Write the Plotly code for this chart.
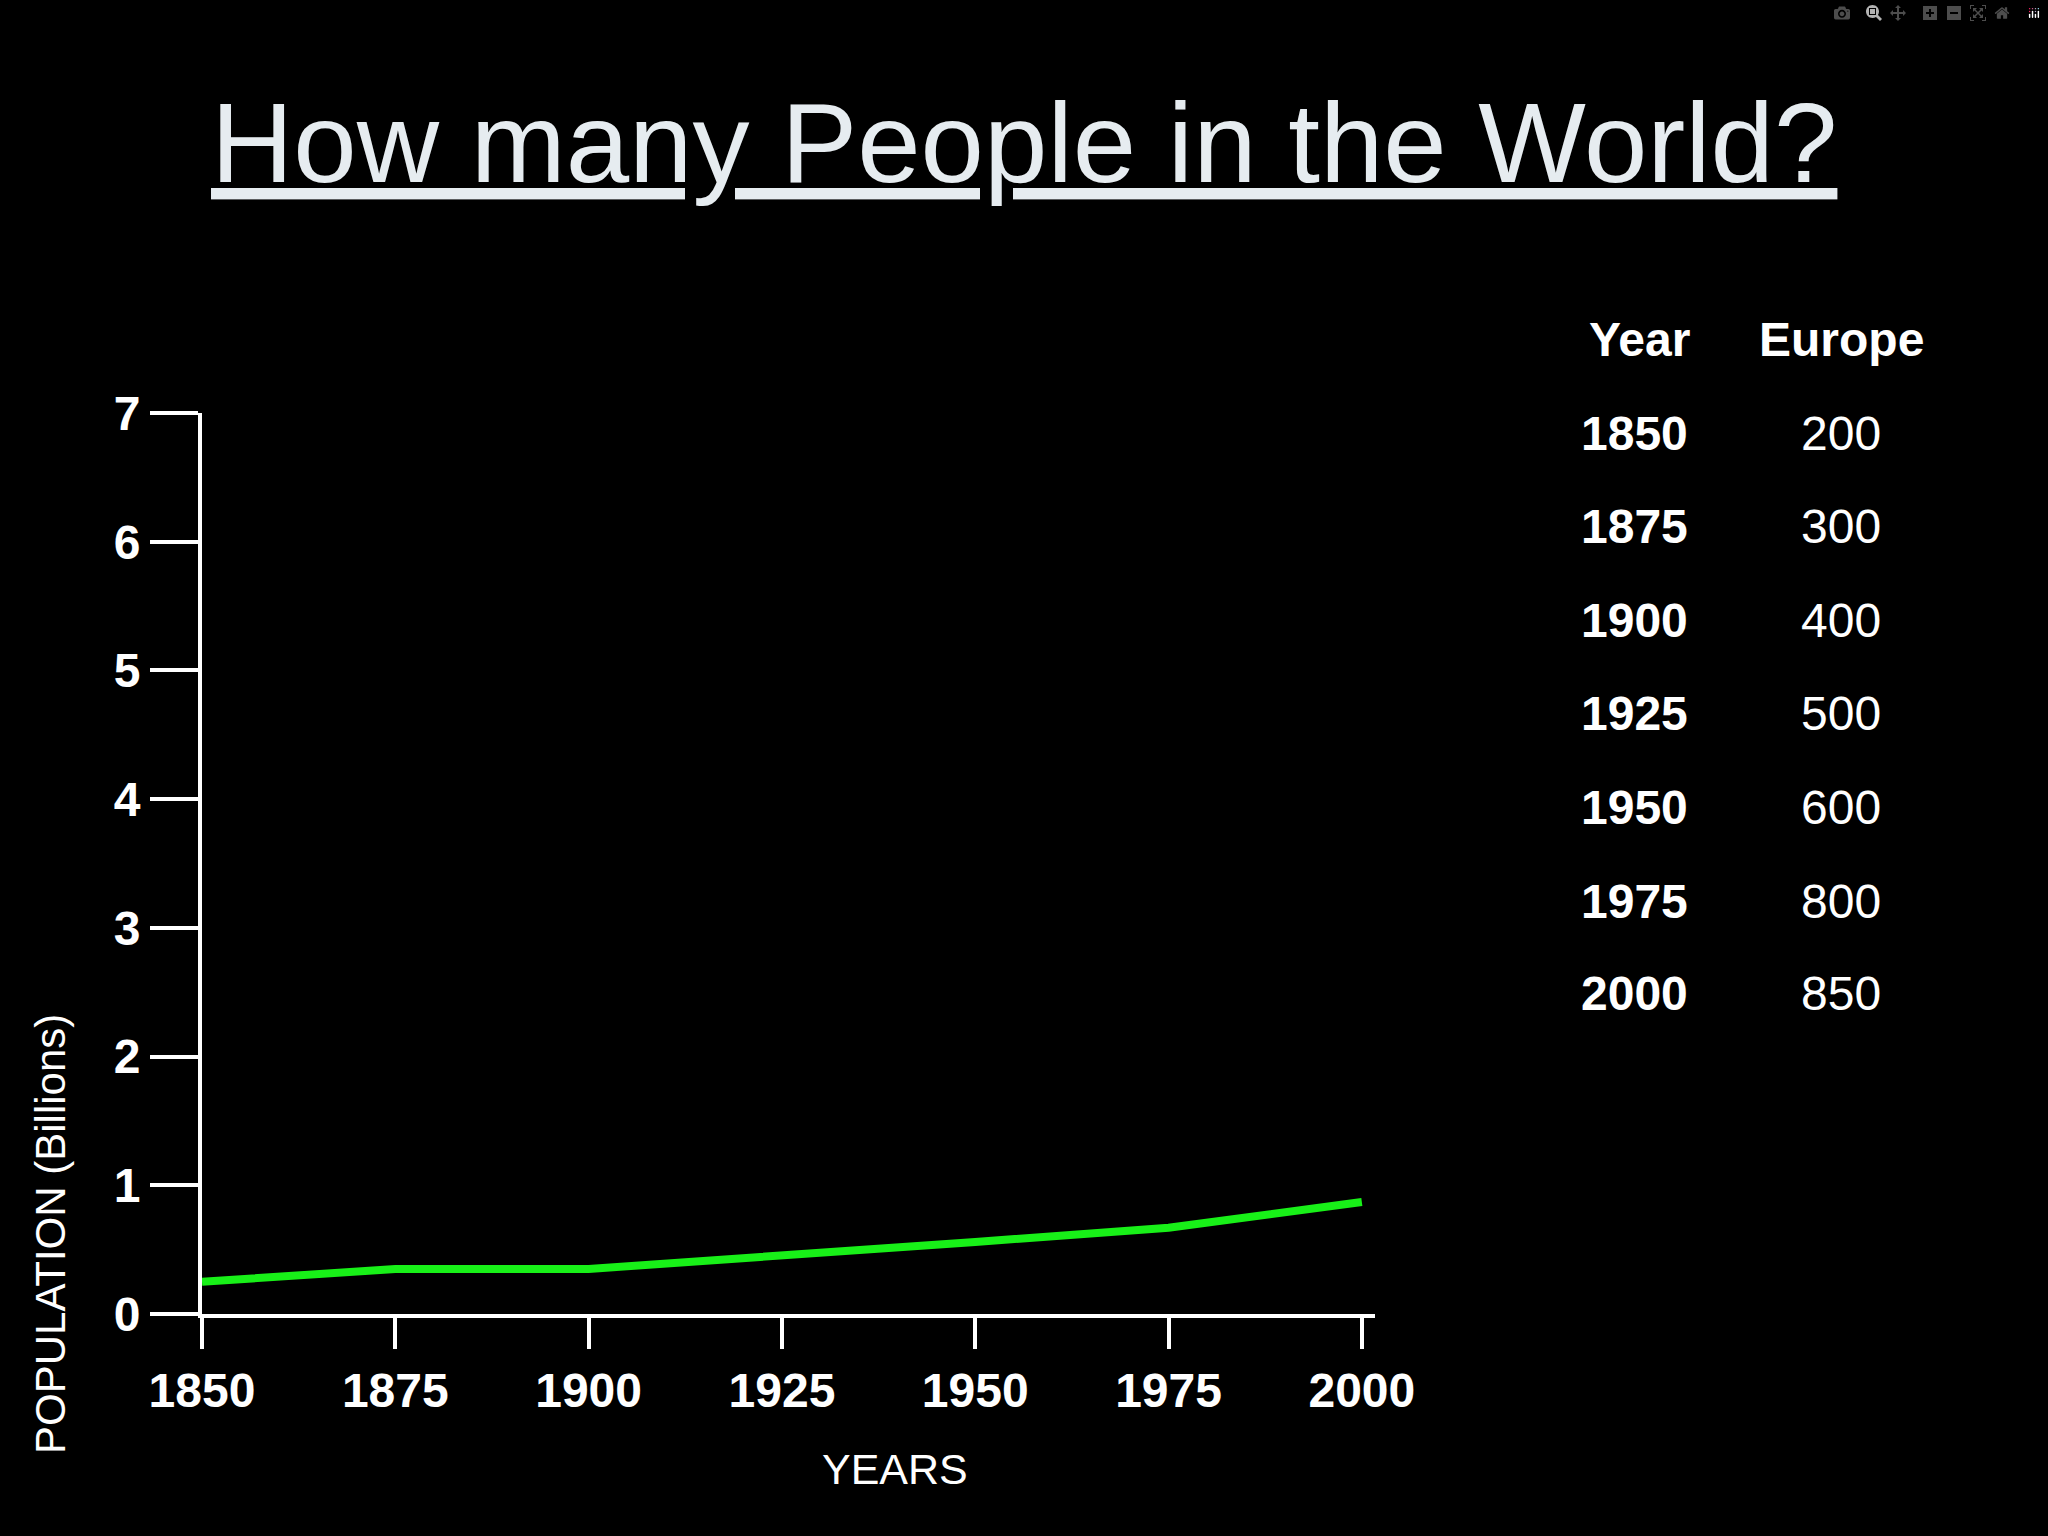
import plotly.graph_objects as go

years = [1850, 1875, 1900, 1925, 1950, 1975, 2000]
world_pop = [0.25, 0.35, 0.35, 0.45, 0.56, 0.67, 0.87]
table_years = ["1850", "1875", "1900", "1925", "1950", "1975", "2000"]
europe = ["200", "300", "400", "500", "600", "800", "850"]
yticks = [0, 1, 2, 3, 4, 5, 6, 7]

W, H = 2048, 1536
L, R, T, B = 202, 1375, 413, 1314
def px(x): return (x - L) / (R - L)
def py(y): return (B - y) / (B - T)

fig = go.Figure(go.Scatter(x=years, y=world_pop, mode="lines",
                           line=dict(color="#18f018", width=8), hoverinfo="skip"))
font = "Liberation Sans, Arial, sans-serif"
fig.update_layout(
    width=W, height=H, paper_bgcolor="black", plot_bgcolor="black",
    margin=dict(l=L, r=W - R, t=T, b=H - B), showlegend=False,
    font=dict(family=font, color="white"),
    xaxis=dict(range=[1850, 2001.7], tickvals=years, ticks="outside", ticklen=31,
               tickwidth=4, tickcolor="white", showline=True, linecolor="white",
               linewidth=4, showgrid=False, zeroline=False,
               tickfont=dict(size=48, color="white", family=font, weight="bold")),
    yaxis=dict(range=[0, 7], tickvals=yticks, ticks="outside", ticklen=48,
               tickwidth=4, tickcolor="white", showline=True, linecolor="white",
               linewidth=4, showgrid=False, zeroline=False,
               tickfont=dict(size=48, color="white", family=font, weight="bold")),
)
ann = []
ann.append(dict(x=px(1024), y=py(142), text="<u>How many People in the World?</u>",
                font=dict(size=114, color="#e6ecf0")))
ann.append(dict(x=px(50), y=py(1234), text="POPULATION (Billions)", textangle=-90,
                font=dict(size=42, color="white")))
ann.append(dict(x=px(895), y=py(1469), text="YEARS", font=dict(size=43, color="white")))
ann.append(dict(x=px(1639), y=py(340), text="<b>Year</b>", font=dict(size=48, color="white")))
ann.append(dict(x=px(1841), y=py(340), text="<b>Europe</b>", font=dict(size=48, color="white")))
for i, (yr, eu) in enumerate(zip(table_years, europe)):
    yy = [332, 403, 475, 546, 618, 690, 761][i] * 1.306
    ann.append(dict(x=px(1634), y=py(yy), text="<b>" + yr + "</b>", font=dict(size=48, color="white")))
    ann.append(dict(x=px(1841), y=py(yy), text=eu, font=dict(size=48, color="white")))
for a in ann:
    a.update(xref="paper", yref="paper", showarrow=False, xanchor="center", yanchor="middle")
fig.update_layout(annotations=ann)
fig.write_html("out.html",
               post_script="document.body.style.margin='0';document.body.style.background='black';")
